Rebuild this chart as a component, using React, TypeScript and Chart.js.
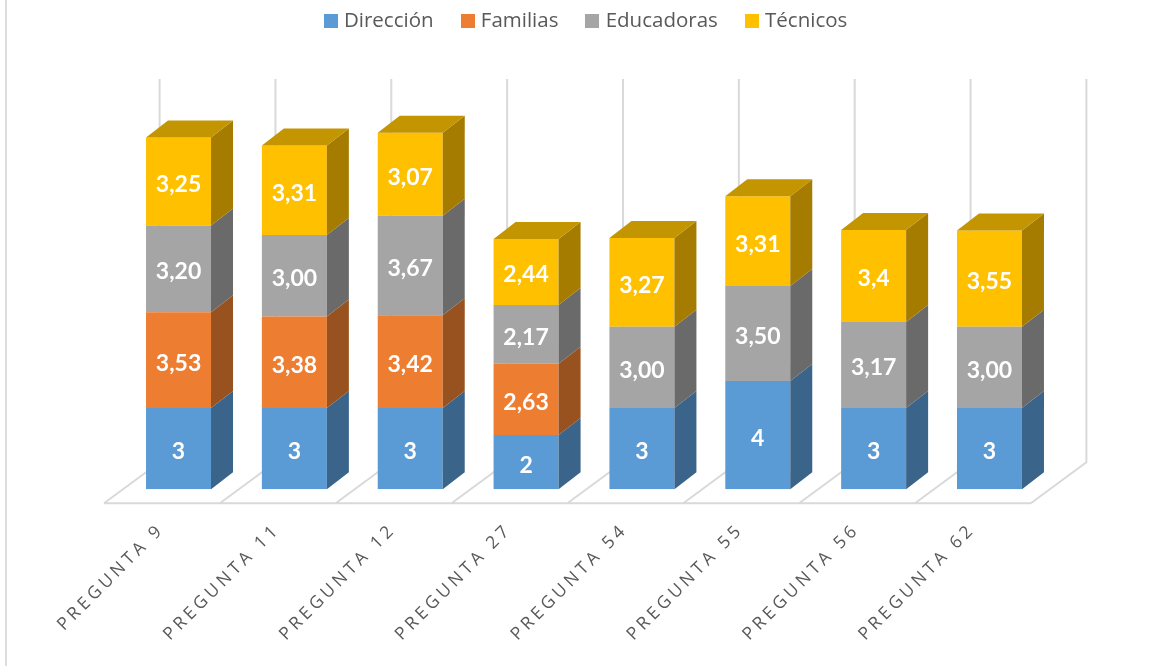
import React, { useEffect, useRef } from "react";
import { Chart, registerables } from "chart.js";

Chart.register(...registerables);

const categories = ["PREGUNTA 9", "PREGUNTA 11", "PREGUNTA 12", "PREGUNTA 27", "PREGUNTA 54", "PREGUNTA 55", "PREGUNTA 56", "PREGUNTA 62"];
const direccion = [3, 3, 3, 2, 3, 4, 3, 3];
const familias = [3.53, 3.38, 3.42, 2.63, null, null, null, null];
const educadoras = [3.2, 3.0, 3.67, 2.17, 3.0, 3.5, 3.17, 3.0];
const tecnicos = [3.25, 3.31, 3.07, 2.44, 3.27, 3.31, 3.4, 3.55];
const direccionText = ["3", "3", "3", "2", "3", "4", "3", "3"];
const familiasText = ["3,53", "3,38", "3,42", "2,63", "", "", "", ""];
const educadorasText = ["3,20", "3,00", "3,67", "2,17", "3,00", "3,50", "3,17", "3,00"];
const tecnicosText = ["3,25", "3,31", "3,07", "2,44", "3,27", "3,31", "3,4", "3,55"];

const seriesNames = ["Dirección", "Familias", "Educadoras", "Técnicos"];
const seriesValues = [direccion, familias, educadoras, tecnicos];
const seriesTexts = [direccionText, familiasText, educadorasText, tecnicosText];
const frontColors = ["#5B9BD5", "#ED7D31", "#A5A5A5", "#FFC000"];
const sideColors = ["#3A648A", "#98521F", "#6A6A6A", "#A67C00"];
const topColors = ["#47799F", "#BA6226", "#818181", "#C39500"];

const DEPTH_X = 22;
const DEPTH_Y = 17;
const GRID = "#D9D9D9";
const TICK_SPACING = "3.8px";

function swatch(color: string) {
  const c = document.createElement("canvas");
  c.width = 14;
  c.height = 14;
  const g = c.getContext("2d")!;
  g.fillStyle = color;
  g.fillRect(0, 0, 14, 14);
  return c;
}

const scene = {
  id: "scene",
  beforeInit(chart: any) {
    const fit = chart.legend.fit;
    chart.legend.fit = function () {
      fit.call(this);
      this.height = 129.9;
    };
  },
  afterLayout(chart: any) {
    chart.legend.left += 3.5;
    chart.legend.right += 3.5;
  },
  beforeDraw(chart: any) {
    chart.ctx.letterSpacing = "0px";
    const { ctx, height } = chart;
    ctx.save();
    ctx.strokeStyle = "#DDDDDD";
    ctx.lineWidth = 2;
    ctx.beginPath();
    ctx.moveTo(6, 0);
    ctx.lineTo(6, height);
    ctx.stroke();
    ctx.restore();
  },
  beforeDatasetsDraw(chart: any) {
    const { ctx, chartArea, scales } = chart;
    const { left, right, top } = chartArea;
    const step = (right - left) / categories.length;
    const y = scales.y;
    const base = y.getPixelForValue(0);
    const fx = -16.6, fy = 14, bx = 39, by = -27;
    ctx.save();
    ctx.strokeStyle = GRID;
    ctx.lineWidth = 2;
    ctx.beginPath();
    for (let i = 0; i <= categories.length; i++) {
      const x = left + step * i;
      ctx.moveTo(x + fx, base + fy);
      ctx.lineTo(x + bx, base + by);
      ctx.lineTo(x + bx, top - 31);
    }
    ctx.moveTo(left + fx, base + fy);
    ctx.lineTo(right + fx, base + fy);
    ctx.stroke();
    ctx.restore();
  },
  afterDatasetsDraw(chart: any) {
    const { ctx } = chart;
    ctx.save();
    chart.data.datasets.forEach((ds: any, d: number) => {
      const meta = chart.getDatasetMeta(d);
      meta.data.forEach((bar: any, i: number) => {
        if (ds.data[i] == null) return;
        const p = bar.getProps(["x", "y", "base", "width"], true);
        const xr = p.x + p.width / 2;
        const xl = p.x - p.width / 2;
        ctx.fillStyle = sideColors[d];
        ctx.beginPath();
        ctx.moveTo(xr, p.y);
        ctx.lineTo(xr + DEPTH_X, p.y - DEPTH_Y);
        ctx.lineTo(xr + DEPTH_X, p.base - DEPTH_Y);
        ctx.lineTo(xr, p.base);
        ctx.closePath();
        ctx.fill();
        const isTop = !chart.data.datasets.slice(d + 1).some((o: any) => o.data[i] != null);
        if (isTop) {
          ctx.fillStyle = topColors[d];
          ctx.beginPath();
          ctx.moveTo(xl, p.y);
          ctx.lineTo(xl + DEPTH_X, p.y - DEPTH_Y);
          ctx.lineTo(xr + DEPTH_X, p.y - DEPTH_Y);
          ctx.lineTo(xr, p.y);
          ctx.closePath();
          ctx.fill();
        }
        ctx.fillStyle = "#FFFFFF";
        ctx.font = "bold 23px Lato";
        ctx.textAlign = "center";
        ctx.textBaseline = "middle";
        ctx.fillText(seriesTexts[d][i], p.x, (p.y + p.base) / 2 + 3);
      });
    });
    ctx.restore();
    // the tick labels are drawn on a layer after the datasets
    ctx.letterSpacing = TICK_SPACING;
  },
};

export default function App() {
  const ref = useRef<HTMLCanvasElement>(null);
  useEffect(() => {
    const chart = new Chart(ref.current!, {
      type: "bar",
      data: {
        labels: categories,
        datasets: seriesNames.map((label, i) => ({
          label,
          data: seriesValues[i],
          backgroundColor: frontColors[i],
          categoryPercentage: 1,
          barPercentage: 0.561,
        })),
      },
      options: {
        responsive: false,
        animation: false,
        layout: { padding: { left: 120.6, right: 101.6, top: -20, bottom: 0 } },
        plugins: {
          legend: {
            position: "top",
            labels: {
              usePointStyle: true,
              pointStyleWidth: 6,
              boxHeight: 14,
              padding: 31,
              color: "#595959",
              font: { family: "'Open Sans'", size: 20.5 },
              generateLabels(c: any) {
                return Chart.defaults.plugins.legend.labels.generateLabels(c).map((item: any, i: number) => ({
                  ...item,
                  pointStyle: swatch(frontColors[i]),
                }));
              },
            },
          },
          tooltip: { enabled: false },
        },
        scales: {
          x: {
            stacked: true,
            border: { display: false },
            grid: { display: false, drawTicks: false },
            afterFit(s: any) {
              s.height = 176.7;
            },
            ticks: {
              z: 1,
              minRotation: 45,
              maxRotation: 45,
              padding: 30,
              labelOffset: -17,
              color: "#595959",
              font: { family: "'Open Sans'", size: 17.5 },
            },
          },
          y: { stacked: true, display: false, min: 0, max: 14 },
        },
      },
      plugins: [scene],
    } as any);
    return () => chart.destroy();
  }, []);
  return (
    <div style={{ position: "absolute", left: 0, top: 0, width: 1149, height: 666 }}>
      <canvas ref={ref} width={1149} height={666} style={{ display: "block" }} />
    </div>
  );
}
